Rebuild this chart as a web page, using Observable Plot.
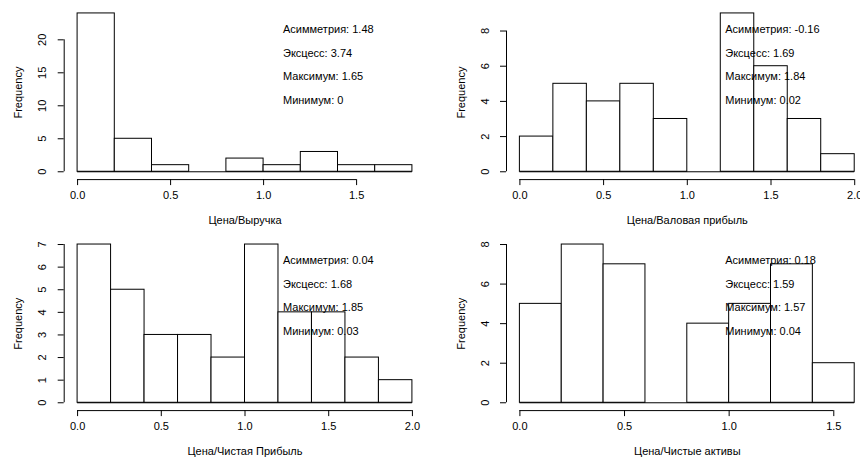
<!DOCTYPE html>
<html><head><meta charset="utf-8">
<script src="https://cdn.jsdelivr.net/npm/d3@7"></script>
<script src="https://cdn.jsdelivr.net/npm/@observablehq/plot@0.6"></script>
<style>
html,body{margin:0;padding:0;background:#fff;}
#wrap{position:relative;width:860px;height:457px;overflow:hidden;background:#fff;}
.panel{position:absolute;}
</style></head><body><div id="wrap"></div>
<script>
// ---- data ----
const titles = ["Цена/Выручка", "Цена/Валовая прибыль", "Цена/Чистая Прибыль", "Цена/Чистые активы"];

const breaks1 = [0, 0.2, 0.4, 0.6, 0.8, 1.0, 1.2, 1.4, 1.6, 1.8];
const counts1 = [24, 5, 1, 0, 2, 1, 3, 1, 1];
const breaks2 = [0, 0.2, 0.4, 0.6, 0.8, 1.0, 1.2, 1.4, 1.6, 1.8, 2.0];
const counts2 = [2, 5, 4, 5, 3, 0, 9, 6, 3, 1];
const breaks3 = [0, 0.2, 0.4, 0.6, 0.8, 1.0, 1.2, 1.4, 1.6, 1.8, 2.0];
const counts3 = [7, 5, 3, 3, 2, 7, 4, 4, 2, 1];
const breaks4 = [0, 0.2, 0.4, 0.6, 0.8, 1.0, 1.2, 1.4, 1.6];
const counts4 = [5, 8, 7, 0, 4, 5, 7, 2];

const xTicks1 = [0, 0.5, 1.0, 1.5];
const xTicks2 = [0, 0.5, 1.0, 1.5, 2.0];
const xTicks3 = [0, 0.5, 1.0, 1.5, 2.0];
const xTicks4 = [0, 0.5, 1.0, 1.5];
const yTicks1 = [0, 5, 10, 15, 20];
const yTicks2 = [0, 2, 4, 6, 8];
const yTicks3 = [0, 1, 2, 3, 4, 5, 6, 7];
const yTicks4 = [0, 2, 4, 6, 8];

const statNames = ["Асимметрия", "Эксцесс", "Максимум", "Минимум"];
const skewness = ["1.48", "-0.16", "0.04", "0.18"];
const kurtosis = ["3.74", "1.69", "1.68", "1.59"];
const maxima   = ["1.65", "1.84", "1.85", "1.57"];
const minima   = ["0", "0.02", "0.03", "0.04"];

const yLabel = "Frequency";

// ---- build ----
const panels = [
  {title: titles[0], breaks: breaks1, counts: counts1, xTicks: xTicks1, yTicks: yTicks1},
  {title: titles[1], breaks: breaks2, counts: counts2, xTicks: xTicks2, yTicks: yTicks2},
  {title: titles[2], breaks: breaks3, counts: counts3, xTicks: xTicks3, yTicks: yTicks3},
  {title: titles[3], breaks: breaks4, counts: counts4, xTicks: xTicks4, yTicks: yTicks4}
];
const layout = [
  {left: 0,   top: 0,   width: 430, height: 228, mL: 63.7, mR: 4.7, mT: 6.6, mB: 50.4},
  {left: 430, top: 0,   width: 440, height: 228, mL: 76,   mR: 2.4, mT: 6.6, mB: 50.4},
  {left: 0,   top: 228, width: 430, height: 229, mL: 63.7, mR: 4.7, mT: 9.7, mB: 48.4},
  {left: 430, top: 228, width: 440, height: 229, mL: 76,   mR: 2.4, mT: 9.7, mB: 48.4}
];
const font = "'Liberation Sans', Arial, Helvetica, sans-serif";
const fs = 11;
const fmt = d3.format(".1f");
const wrap = document.getElementById("wrap");

panels.forEach((p, k) => {
  const L = layout[k];
  const b0 = p.breaks[0], b1 = p.breaks[p.breaks.length - 1];
  const maxC = d3.max(p.counts);
  const xlo = b0 - 0.04 * (b1 - b0), xhi = b1 + 0.04 * (b1 - b0);
  const ylo = -0.04 * maxC, yhi = 1.04 * maxC;
  const bins = p.counts.map((c, i) => ({x1: p.breaks[i], x2: p.breaks[i + 1], count: c}));
  const statVals = [skewness[k], kurtosis[k], maxima[k], minima[k]];
  const fracs = [0.9, 0.75, 0.6, 0.45];
  const stats = statNames.map((n, i) => ({label: n + ": " + statVals[i], y: fracs[i] * maxC}));
  const xt0 = p.xTicks[0], xt1 = p.xTicks[p.xTicks.length - 1];
  const yt0 = p.yTicks[0], yt1 = p.yTicks[p.yTicks.length - 1];

  const svg = Plot.plot({
    width: L.width, height: L.height,
    marginLeft: L.mL, marginRight: L.mR, marginTop: L.mT, marginBottom: L.mB,
    x: {domain: [xlo, xhi], axis: null},
    y: {domain: [ylo, yhi], axis: null},
    style: {fontFamily: font, fontSize: fs + "px", background: "white", overflow: "visible", color: "black"},
    marks: [
      Plot.rect(bins, {x1: "x1", x2: "x2", y1: () => 0, y2: "count", fill: "white", stroke: "black", strokeWidth: 1}),
      Plot.ruleY([0], {y: d => d, x1: () => b0, x2: () => b1, stroke: "black"}),
      Plot.text(stats, {x: () => 0.6 * b1, y: "y", text: "label", textAnchor: "start", lineAnchor: "middle", dx: 4.5, fontSize: fs, fill: "black"}),
      // x axis
      Plot.ruleY([ylo], {y: d => d, x1: () => xt0, x2: () => xt1, dy: 1.5, stroke: "black"}),
      Plot.ruleX(p.xTicks, {x: d => d, y1: () => ylo, y2: () => ylo, insetTop: 1.5, insetBottom: -7.5, stroke: "black"}),
      Plot.text(p.xTicks, {x: d => d, y: () => ylo, text: d => fmt(d), lineAnchor: "middle", dy: 17, fontSize: fs, fill: "black"}),
      Plot.text([p.title], {frameAnchor: "bottom", text: d => d, textAnchor: "middle", lineAnchor: "middle", dy: 42, fontSize: fs, fill: "black"}),
      // y axis
      Plot.ruleX([xlo], {x: d => d, y1: () => yt0, y2: () => yt1, stroke: "black"}),
      Plot.ruleY(p.yTicks, {y: d => d, x1: () => xlo, x2: () => xlo, insetLeft: -6, insetRight: 0, stroke: "black"}),
      Plot.text(p.yTicks, {x: () => xlo, y: d => d, text: d => String(d), rotate: -90, textAnchor: "middle", lineAnchor: "middle", dx: -21.5, fontSize: fs, fill: "black"}),
      Plot.text([yLabel], {frameAnchor: "left", text: d => d, rotate: -90, textAnchor: "middle", lineAnchor: "middle", dx: -45.5, fontSize: fs, fill: "black"})
    ]
  });
  const div = document.createElement("div");
  div.className = "panel";
  div.style.left = L.left + "px";
  div.style.top = L.top + "px";
  div.style.width = L.width + "px";
  div.style.height = L.height + "px";
  div.appendChild(svg);
  wrap.appendChild(div);
});
</script>
</body></html>
